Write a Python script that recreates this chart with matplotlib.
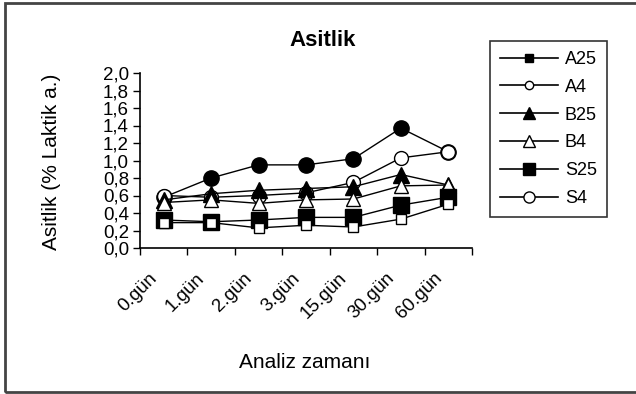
import matplotlib
matplotlib.use("Agg")
import matplotlib.pyplot as plt
from matplotlib.lines import Line2D
from matplotlib.patches import Rectangle
from matplotlib.ticker import FuncFormatter, FixedLocator
import matplotlib.transforms as mtransforms

plt.rcParams['font.family'] = ['Liberation Sans', 'DejaVu Sans']

categories = ["0.gün", "1.gün", "2.gün", "3.gün", "15.gün", "30.gün", "60.gün"]
series_names = ["A25", "A4", "B25", "B4", "S25", "S4"]
A25 = [0.58, 0.80, 0.95, 0.95, 1.02, 1.37, 1.10]
A4 = [0.60, 0.58, 0.60, 0.63, 0.75, 1.03, 1.10]
B25 = [0.55, 0.62, 0.66, 0.68, 0.70, 0.84, 0.72]
B4 = [0.52, 0.55, 0.51, 0.55, 0.56, 0.71, 0.72]
S25 = [0.32, 0.30, 0.32, 0.35, 0.35, 0.49, 0.58]
S4 = [0.29, 0.29, 0.23, 0.26, 0.24, 0.33, 0.50]
yticks = [0.0, 0.2, 0.4, 0.6, 0.8, 1.0, 1.2, 1.4, 1.6, 1.8, 2.0]

W, H = 636, 394
fig = plt.figure(figsize=(W / 100, H / 100), dpi=100)
ax = fig.add_axes([140 / W, 1 - 248 / H, (472 - 140) / W, (248 - 73) / H])

x = list(range(len(categories)))
styles = [
    dict(marker='o', ms=11, mfc='black', mec='black'),
    dict(marker='o', ms=10, mfc='white', mec='black'),
    dict(marker='^', ms=11, mfc='black', mec='black'),
    dict(marker='^', ms=10, mfc='white', mec='black'),
    dict(marker='s', ms=12, mfc='black', mec='black'),
    dict(marker='s', ms=7.5, mfc='white', mec='black'),
]
for vals, st in zip([A25, A4, B25, B4, S25, S4], styles):
    ax.plot(x, vals, color='black', lw=1.0, mew=1.0, clip_on=False, **st)

ax.set_xlim(-0.5, len(categories) - 0.5)
ax.set_ylim(0, 2.0)
ax.set_yticks(yticks)
ax.yaxis.set_major_formatter(FuncFormatter(lambda v, p: f"{v:.1f}".replace('.', ',')))
ax.tick_params(axis='y', direction='out', length=5, width=1, labelsize=13.5, pad=3)

ax.xaxis.set_major_locator(FixedLocator([i - 0.5 for i in range(len(categories) + 1)]))
ax.xaxis.set_major_formatter(FuncFormatter(lambda v, p: ""))
ax.xaxis.set_minor_locator(FixedLocator(x))
ax.set_xticklabels(categories, minor=True)
ax.tick_params(axis='x', which='major', direction='out', length=5, width=1)
ax.tick_params(axis='x', which='minor', length=0, labelsize=13.5, pad=20)
offset = mtransforms.ScaledTranslation(-9 / 100, 0, fig.dpi_scale_trans)
for lab in ax.get_xticklabels(minor=True):
    lab.set_rotation(45)
    lab.set_ha('right')
    lab.set_va('center')
    lab.set_rotation_mode('anchor')
    lab.set_transform(lab.get_transform() + offset)

for s in ['top', 'right']:
    ax.spines[s].set_visible(False)
for s in ['left', 'bottom']:
    ax.spines[s].set_linewidth(1.2)

fig.text(323 / W, 1 - 40 / H, "Asitlik", ha='center', va='center', fontsize=16, fontweight='bold')
fig.text(305 / W, 1 - 362 / H, "Analiz zamanı", ha='center', va='center', fontsize=15)
fig.text(52 / W, 1 - 162 / H, "Asitlik (% Laktik a.)", ha='center', va='center', rotation=90, fontsize=15)

leg_styles = [
    dict(marker='s', ms=6, mfc='black', mec='black'),
    dict(marker='o', ms=6, mfc='white', mec='black'),
    dict(marker='^', ms=8, mfc='black', mec='black'),
    dict(marker='^', ms=8, mfc='white', mec='black'),
    dict(marker='s', ms=8, mfc='black', mec='black'),
    dict(marker='o', ms=8, mfc='white', mec='black'),
]
handles = [Line2D([0], [0], color='black', lw=1.2, **st) for st in leg_styles]
leg = fig.legend(handles, series_names, loc='upper left',
                 bbox_to_anchor=(490 / W, 1 - 41 / H), fontsize=13,
                 frameon=True, fancybox=False, edgecolor='black',
                 handlelength=3.2, handletextpad=0.4, labelspacing=0.6,
                 borderpad=0.55, borderaxespad=0)
leg.get_frame().set_linewidth(1.2)

fig.patches.append(Rectangle((5 / W, 1 - 392 / H), 1.0, (392 - 3) / H,
                             transform=fig.transFigure, fill=False,
                             edgecolor='#444444', lw=2))

fig.savefig("out.png", dpi=100)
